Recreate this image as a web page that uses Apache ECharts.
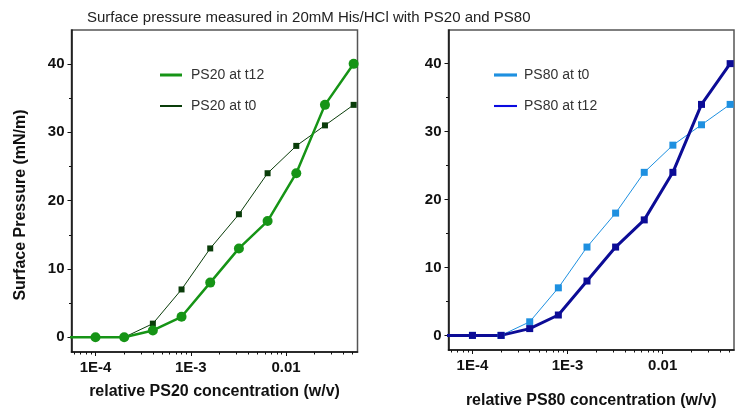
<!DOCTYPE html>
<html>
<head>
<meta charset="utf-8">
<style>
  html, body { margin: 0; padding: 0; background: #fff; }
  #main { width: 737px; height: 414px; }
</style>
<script src="https://cdn.jsdelivr.net/npm/echarts@6/dist/echarts.min.js"></script>
</head>
<body>
<div id="main"></div>
<script>
// concentrations (w/v), doubling series; first point lies just left of the axis
var conc = [5e-5, 1e-4, 2e-4, 4e-4, 8e-4, 1.6e-3, 3.2e-3, 6.4e-3, 1.28e-2, 2.56e-2, 5.12e-2];
var ps20T12 = [0, 0, 0, 1, 3, 8, 13, 17, 24, 34, 40];
var ps20T0 = [0, 0, 0, 2, 7, 13, 18, 24, 28, 31, 34];
var ps80T0 = [0, 0, 0, 2, 7, 13, 18, 24, 28, 31, 34];
var ps80T12 = [0, 0, 0, 1, 3, 8, 13, 17, 24, 34, 40];

var xMajor = [1e-4, 1e-3, 1e-2];
var xMinor = [6e-5, 7e-5, 8e-5, 9e-5,
  2e-4, 3e-4, 4e-4, 5e-4, 6e-4, 7e-4, 8e-4, 9e-4,
  2e-3, 3e-3, 4e-3, 5e-3, 6e-3, 7e-3, 8e-3, 9e-3,
  2e-2, 3e-2, 4e-2, 5e-2];
var yMajor = [0, 10, 20, 30, 40];
var yMinor = [5, 15, 25, 35];

var xMin = 5.6e-5, xMax = 0.0562;
var yMin = -2.15, yMax = 44.95;

function pairs(ys) {
  return conc.map(function (c, i) { return [c, ys[i]]; });
}

function xLabel(v) {
  if (v === 1e-4) return '1E-4';
  if (v === 1e-3) return '1E-3';
  return '0.01';
}

var tickFont = { fontFamily: 'Liberation Sans', fontWeight: 'bold', fontSize: 15, color: '#111' };
var nameFont = { fontFamily: 'Liberation Sans', fontWeight: 'bold', fontSize: 16, color: '#111' };

function xAxes(grid, name, gap) {
  return [{
    gridIndex: grid, type: 'log', logBase: 10, min: xMin, max: xMax, position: 'bottom',
    name: name, nameLocation: 'middle', nameGap: gap,
    nameTextStyle: nameFont,
    axisLine: { onZero: false, lineStyle: { color: '#111', width: 1.5 } },
    axisTick: { customValues: xMajor, length: 4, lineStyle: { color: '#111', width: 1 } },
    axisLabel: Object.assign({ customValues: xMajor, margin: 8, formatter: xLabel }, tickFont),
    splitLine: { show: false }
  }, {
    gridIndex: grid, type: 'log', logBase: 10, min: xMin, max: xMax, position: 'bottom',
    axisLine: { show: false, onZero: false },
    axisTick: { customValues: xMinor, length: 2.5, lineStyle: { color: '#111', width: 1 } },
    axisLabel: { show: false },
    splitLine: { show: false }
  }];
}

function yAxes(grid, name) {
  return [{
    gridIndex: grid, type: 'value', min: yMin, max: yMax, position: 'left',
    name: name, nameLocation: 'middle', nameGap: 43,
    nameTextStyle: Object.assign({ padding: [0, 28, 0, 0] }, nameFont),
    axisLine: { show: true, onZero: false, lineStyle: { color: '#111', width: 1.5 } },
    axisTick: { show: true, customValues: yMajor, length: 4, lineStyle: { color: '#111', width: 1 } },
    axisLabel: Object.assign({ customValues: yMajor, margin: 7 }, tickFont),
    splitLine: { show: false }
  }, {
    gridIndex: grid, type: 'value', min: yMin, max: yMax, position: 'left',
    axisLine: { show: false, onZero: false },
    axisTick: { show: true, customValues: yMinor, length: 2.5, lineStyle: { color: '#111', width: 1 } },
    axisLabel: { show: false },
    splitLine: { show: false }
  }];
}

var thick = 'path://M0,0H22V3H0Z';
var thin = 'path://M0,0H22V2H0Z';

var chart = echarts.init(document.getElementById('main'));

var option = {
  backgroundColor: '#fff',
  animation: false,
  title: {
    text: 'Surface pressure measured in 20mM His/HCl with PS20 and PS80',
    left: 82, top: 5,
    textStyle: { fontFamily: 'Liberation Sans', fontWeight: 'normal', fontSize: 15, color: '#222' }
  },
  grid: [
    { left: 71.5, top: 30, width: 286, height: 322, show: true, borderColor: '#555', borderWidth: 1.5 },
    { left: 448.5, top: 30, width: 285.5, height: 322, show: true, borderColor: '#555', borderWidth: 1.5 }
  ],
  legend: [{
    orient: 'vertical', left: 160, top: 68, padding: 0, itemWidth: 22, itemHeight: 14, itemGap: 17,
    textStyle: { fontFamily: 'Liberation Sans', fontSize: 14, color: '#333', padding: [0, 0, 0, 4] },
    data: [
      { name: 'PS20 at t12', icon: thick, itemStyle: { color: '#169416' } },
      { name: 'PS20 at t0', icon: thin, itemStyle: { color: '#0a3d0a' } }
    ]
  }, {
    orient: 'vertical', left: 494, top: 68, padding: 0, itemWidth: 23, itemHeight: 14, itemGap: 17,
    textStyle: { fontFamily: 'Liberation Sans', fontSize: 14, color: '#333', padding: [0, 0, 0, 2] },
    data: [
      { name: 'PS80 at t0', icon: thick, itemStyle: { color: '#1e90e0' } },
      { name: 'PS80 at t12', icon: thin, itemStyle: { color: '#0a0ae0' } }
    ]
  }],
  xAxis: xAxes(0, 'relative PS20 concentration (w/v)', 32).concat(xAxes(1, 'relative PS80 concentration (w/v)', 43)),
  yAxis: yAxes(0, 'Surface Pressure (mN/m)').concat(yAxes(1, '')),
  series: [
    {
      name: 'PS20 at t0', type: 'line', xAxisIndex: 0, yAxisIndex: 0,
      symbol: 'rect', symbolSize: 6,
      lineStyle: { color: '#0a3d0a', width: 1 },
      itemStyle: { color: '#0a3d0a' },
      data: pairs(ps20T0)
    },
    {
      name: 'PS20 at t12', type: 'line', xAxisIndex: 0, yAxisIndex: 0,
      symbol: 'circle', symbolSize: 10,
      lineStyle: { color: '#169416', width: 2.5 },
      itemStyle: { color: '#169416' },
      data: pairs(ps20T12)
    },
    {
      name: 'PS80 at t0', type: 'line', xAxisIndex: 2, yAxisIndex: 2,
      symbol: 'rect', symbolSize: 7,
      lineStyle: { color: '#1e90e0', width: 1 },
      itemStyle: { color: '#1e90e0' },
      data: pairs(ps80T0)
    },
    {
      name: 'PS80 at t12', type: 'line', xAxisIndex: 2, yAxisIndex: 2,
      symbol: 'rect', symbolSize: 7,
      lineStyle: { color: '#0c0c96', width: 3 },
      itemStyle: { color: '#0c0c96' },
      data: pairs(ps80T12)
    }
  ]
};

chart.setOption(option);
</script>
</body>
</html>
